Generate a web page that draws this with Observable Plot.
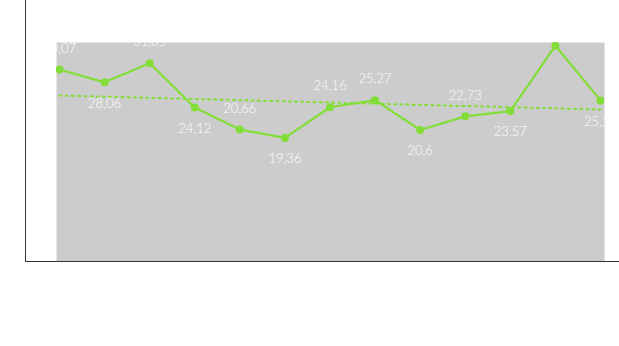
<!DOCTYPE html>
<html>
<head>
<meta charset="utf-8">
<script src="https://cdn.jsdelivr.net/npm/d3@7"></script>
<script src="https://cdn.jsdelivr.net/npm/@observablehq/plot@0.6"></script>
<style>
  html, body { margin: 0; padding: 0; background: #ffffff; }
  #wrap { position: relative; width: 619px; height: 346px; overflow: hidden; }
  #wrap svg { position: absolute; left: 0; top: 0; }
  #axes { position: absolute; left: 25px; top: 0; width: 594px; height: 262px;
          box-sizing: border-box; border-left: 1px solid #333; border-bottom: 1px solid #333; pointer-events: none; }
</style>
</head>
<body>
<div id="wrap"><div id="axes"></div></div>
<script>
// Data
const periods = [0, 1, 2, 3, 4, 5, 6, 7, 8, 9, 10, 11, 12];
const values = [30.07, 28.06, 31.05, 24.12, 20.66, 19.36, 24.16, 25.27, 20.6, 22.73, 23.57, 33.8, 25.23];
const labelPlacement = ["above", "below", "above", "below", "above", "below", "above", "above", "below", "above", "below", "above", "below"];
const trendPeriods = [0, 12];
const trendValues = [26.0, 23.8];

const green = "#82de36";

const data = periods.map((p, i) => ({
  x: p,
  y: values[i],
  label: String(values[i]).replace(".", ","),
  pos: labelPlacement[i]
}));
const trend = trendPeriods.map((p, i) => ({x: p, y: trendValues[i]}));

const chart = Plot.plot({
  width: 619,
  height: 346,
  marginLeft: 56,
  marginRight: 15,
  marginTop: 42,
  marginBottom: 85,
  style: {background: "transparent", fontFamily: "Lato, sans-serif"},
  x: {domain: [0, 12], insetLeft: 3, insetRight: 4, axis: null},
  y: {domain: [0, 34.3], axis: null},
  marks: [
    Plot.frame({fill: "#cccccc", stroke: null}),
    Plot.line(trend, {x: "x", y: "y", stroke: green, strokeWidth: 2, strokeDasharray: "2,4.2", clip: true}),
    Plot.line(data, {x: "x", y: "y", stroke: green, strokeWidth: 2.2, clip: true}),
    Plot.dot(data, {x: "x", y: "y", r: 4, fill: green, stroke: null, clip: true}),
    Plot.text(data.filter(d => d.pos === "above"), {x: "x", y: "y", text: "label", dy: -21, fill: "white", fontSize: 13, fontWeight: 300, clip: true}),
    Plot.text(data.filter(d => d.pos === "below"), {x: "x", y: "y", text: "label", dy: 21, fill: "white", fontSize: 13, fontWeight: 300, clip: true})
  ]
});
document.getElementById("wrap").prepend(chart);
</script>
</body>
</html>
